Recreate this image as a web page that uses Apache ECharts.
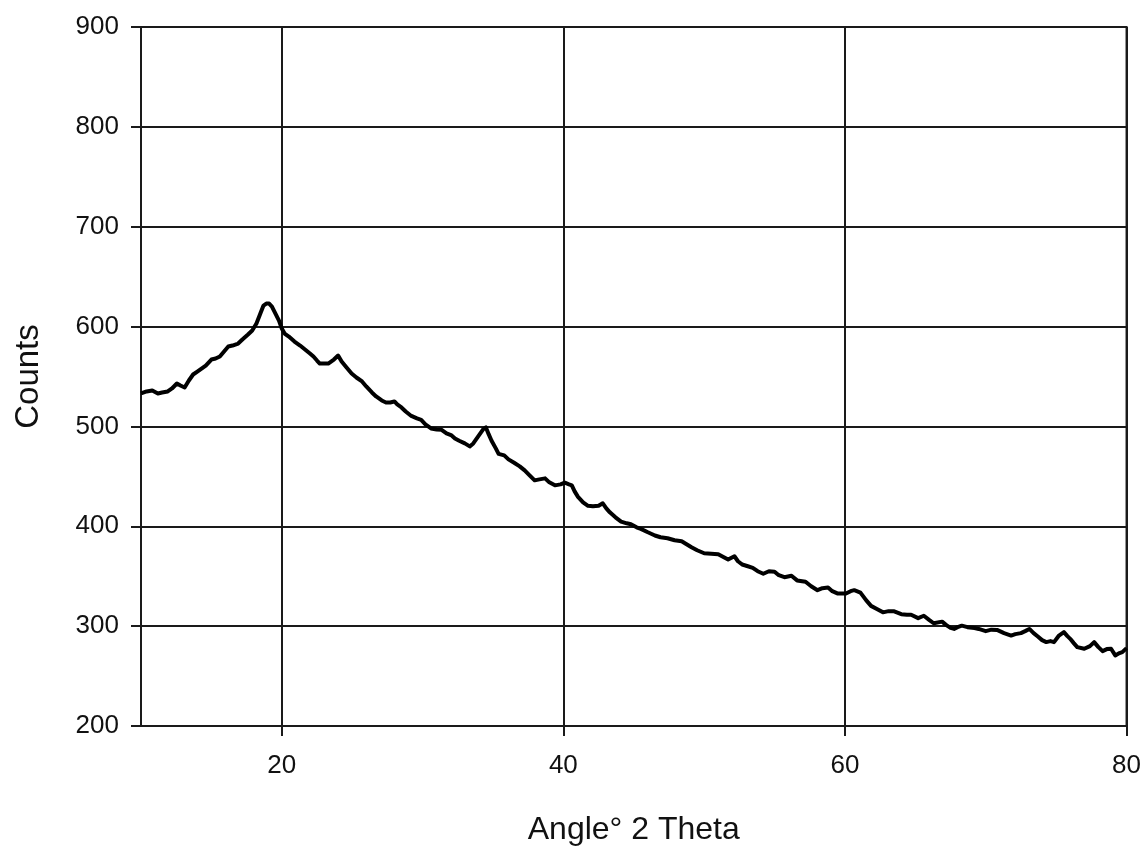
<!DOCTYPE html>
<html>
<head>
<meta charset="utf-8">
<script src="https://cdn.jsdelivr.net/npm/echarts@6/dist/echarts.min.js"></script>
<style>
  html, body { margin: 0; padding: 0; background: #ffffff; }
  #chart { width: 1144px; height: 851px; }
</style>
</head>
<body>
<div id="chart"></div>
<script>
// XRD scan: diffraction angle (degrees 2θ) against detector counts
const angle = [
  10.0, 10.4, 10.8, 11.2, 11.5, 11.9, 12.2, 12.55, 12.8, 13.1, 13.4, 13.7, 14.0, 14.3, 14.6,
  15.0, 15.3, 15.6, 15.9, 16.2, 16.5, 16.9, 17.2, 17.6, 17.9, 18.2, 18.45, 18.7, 18.9, 19.1,
  19.3, 19.55, 19.8, 20.0, 20.2, 20.5, 20.9, 21.3, 21.65, 22.0, 22.25, 22.5, 22.7, 23.0, 23.3,
  23.5, 23.7, 24.0, 24.25, 24.6, 24.96, 25.3, 25.7, 26.0, 26.4, 26.7, 27.1, 27.4, 27.7, 28.0,
  28.2, 28.5, 28.8, 29.2, 29.6, 29.9, 30.2, 30.6, 31.0, 31.35, 31.7, 32.06, 32.3, 32.6, 33.0,
  33.35, 33.6, 33.8, 34.1, 34.3, 34.5, 34.7, 34.9, 35.2, 35.4, 35.8, 36.1, 36.5, 36.9, 37.25,
  37.6, 37.96, 38.3, 38.7, 39.0, 39.4, 39.8, 40.1, 40.4, 40.6, 40.8, 41.04, 41.4, 41.75, 42.1,
  42.5, 42.8, 43.05, 43.3, 43.7, 44.1, 44.5, 44.8, 45.2, 45.5, 46.0, 46.5, 46.9, 47.4, 47.9,
  48.4, 48.75, 49.1, 49.5, 50.0, 50.5, 51.0, 51.4, 51.7, 52.15, 52.4, 52.7, 53.1, 53.45, 53.8,
  54.2, 54.6, 55.0, 55.3, 55.7, 56.2, 56.6, 57.2, 57.6, 58.05, 58.4, 58.8, 59.1, 59.5, 60.07,
  60.4, 60.66, 61.1, 61.5, 61.85, 62.3, 62.7, 63.1, 63.5, 64.0, 64.4, 64.7, 65.2, 65.6, 66.0,
  66.3, 66.9, 67.2, 67.5, 67.75, 68.0, 68.3, 68.7, 69.2, 69.5, 70.0, 70.4, 70.8, 71.3, 71.8,
  72.1, 72.5, 72.8, 73.1, 73.4, 73.7, 74.0, 74.3, 74.6, 74.85, 75.2, 75.55, 75.8, 76.0, 76.25,
  76.5, 77.0, 77.4, 77.7, 78.0, 78.3, 78.6, 78.9, 79.2, 79.5, 79.7, 80.0
];
const counts = [
  533, 535, 536, 533, 534, 535, 538, 543, 541, 539, 546, 552, 555, 558, 561,
  567, 568, 570, 575, 580, 581, 583, 587, 592, 596, 603, 612, 621, 623, 623,
  620, 613, 606, 598, 593, 590, 585, 581, 577, 573, 570, 566, 563, 563, 563,
  565, 567, 571, 565, 559, 553, 549, 545, 540, 534, 530, 526, 524, 524, 525,
  522, 519, 515, 510.5, 508, 506.5, 502, 498, 497, 496.6, 493, 491, 488, 485.7, 483,
  480, 483, 487, 493, 497, 499, 492, 485.7, 478, 472.5, 471, 467, 463.6, 460, 456,
  451, 446, 447, 448, 444, 441, 442, 443.7, 442, 441, 435, 429.5, 424, 420.5, 420,
  420.5, 423, 418, 414, 409, 404.7, 403, 402, 399, 397.4, 394, 390.8, 389, 388, 386,
  385, 382, 379, 376, 373, 372.5, 372, 369, 366.7, 370, 365, 361.7, 360, 358.4, 355,
  352.5, 355, 354.5, 351, 349, 350.5, 345.8, 344.5, 340, 336, 338, 338.6, 335, 332.6, 332.6,
  335, 336, 333.6, 326, 320.3, 317, 313.8, 315, 314.8, 312, 311.5, 311.4, 308, 310.4, 306,
  302.9, 304.5, 301, 298.2, 297.2, 299, 300.5, 299, 298.2, 297.2, 295, 296.5, 296.2, 293, 290.6,
  292, 293, 295, 297.2, 293, 289.6, 286, 284, 285, 284, 290.6, 294, 290, 287.3, 283,
  279, 277.4, 280, 284, 279, 275, 277, 277.4, 270.7, 273, 274, 278
];
const angleTicks = [20, 40, 60, 80];
const countTicks = [200, 300, 400, 500, 600, 700, 800, 900];

const FONT = '"Liberation Sans", Arial, sans-serif';
const INK = '#111111';
const GRID_INK = '#1a1a1a';

const chart = echarts.init(document.getElementById('chart'), null, { renderer: 'canvas' });

chart.setOption({
  backgroundColor: '#ffffff',
  animation: false,
  grid: {
    left: 141, right: 17, top: 27, bottom: 118,
    show: true, borderColor: GRID_INK, borderWidth: 2, backgroundColor: 'transparent'
  },
  xAxis: {
    type: 'value',
    min: 10, max: 80,
    name: 'Angle° 2 Theta',
    nameLocation: 'middle',
    nameGap: 88,
    nameTextStyle: { fontFamily: FONT, fontSize: 32, color: INK },
    axisLine: { show: true, onZero: false, lineStyle: { color: GRID_INK, width: 2 } },
    axisTick: { show: true, inside: false, length: 10, customValues: angleTicks, lineStyle: { color: GRID_INK, width: 2 } },
    axisLabel: { customValues: angleTicks, margin: 27, fontFamily: FONT, fontSize: 26, color: INK },
    splitLine: { show: true, customValues: angleTicks, lineStyle: { color: GRID_INK, width: 2 } }
  },
  yAxis: {
    type: 'value',
    min: countTicks[0], max: countTicks[countTicks.length - 1], interval: 100,
    name: 'Counts',
    nameLocation: 'middle',
    nameGap: 96,
    nameRotate: 90,
    nameTextStyle: { fontFamily: FONT, fontSize: 33, color: INK },
    axisLine: { show: true, lineStyle: { color: GRID_INK, width: 2 } },
    axisTick: { show: true, inside: false, length: 10, lineStyle: { color: GRID_INK, width: 2 } },
    axisLabel: { margin: 22, fontFamily: FONT, fontSize: 26, color: INK },
    splitLine: { show: true, lineStyle: { color: GRID_INK, width: 2 } }
  },
  series: [{
    type: 'line',
    data: angle.map((a, i) => [a, counts[i]]),
    showSymbol: false,
    smooth: false,
    lineStyle: { color: '#000000', width: 4, join: 'round' }
  }]
});
</script>
</body>
</html>
